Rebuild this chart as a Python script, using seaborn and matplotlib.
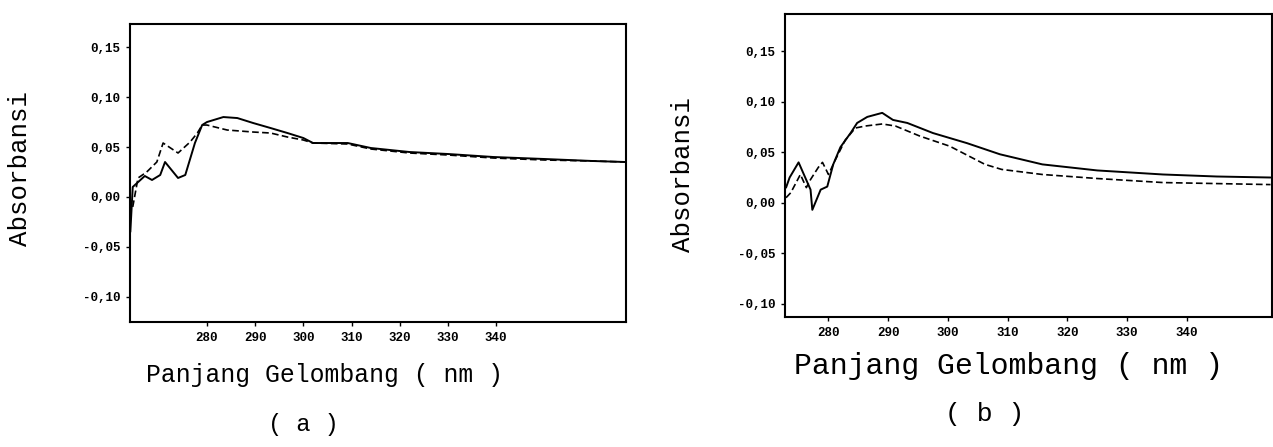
import matplotlib
matplotlib.use("Agg")
import matplotlib.pyplot as plt
import seaborn as sns
import pandas as pd

# ---- data ----
xticks = [280, 290, 300, 310, 320, 330, 340]
xtick_labels = ["280", "290", "300", "310", "320", "330", "340"]
yticks = [0.15, 0.10, 0.05, 0.00, -0.05, -0.10]
ytick_labels = ["0,15", "0,10", "0,05", "0,00", "-0,05", "-0,10"]

a_wl_solid = [264.1, 264.6, 267.1, 268.6, 270.3, 271.3, 274.0, 275.5, 277.5, 279.0, 280.0,
              283.4, 286.3, 289.6, 293.2, 296.7, 300.0, 302.0, 309.2, 314.0, 322.0, 330.0,
              339.4, 350.0, 360.0, 366.8]
a_abs_solid = [-0.035, 0.010, 0.021, 0.017, 0.022, 0.035, 0.019, 0.022, 0.054, 0.072, 0.075,
               0.080, 0.079, 0.074, 0.069, 0.064, 0.059, 0.054, 0.054, 0.049, 0.045, 0.043,
               0.040, 0.038, 0.036, 0.035]
a_wl_dash = [264.6, 265.7, 267.5, 269.6, 270.9, 274.0, 276.5, 278.0, 279.0, 280.0, 284.2,
             289.6, 293.2, 296.7, 300.0, 302.0, 309.2, 314.0, 322.0, 330.0, 339.4, 350.0,
             360.0, 366.8]
a_abs_dash = [-0.010, 0.019, 0.025, 0.035, 0.054, 0.044, 0.055, 0.064, 0.072, 0.072, 0.067,
              0.065, 0.064, 0.060, 0.057, 0.054, 0.053, 0.048, 0.044, 0.042, 0.039, 0.037,
              0.036, 0.035]

b_wl_solid = [272.9, 273.5, 275.0, 277.0, 277.3, 278.7, 279.8, 280.8, 282.0, 283.7, 284.8,
              286.5, 289.0, 290.8, 293.2, 297.5, 303.2, 308.7, 315.8, 325.0, 336.0, 345.0, 354.0]
b_abs_solid = [0.015, 0.025, 0.040, 0.013, -0.007, 0.013, 0.016, 0.038, 0.055, 0.069, 0.079,
               0.085, 0.089, 0.082, 0.079, 0.069, 0.059, 0.048, 0.038, 0.032, 0.028, 0.026, 0.025]
b_wl_dash = [272.9, 273.7, 275.3, 276.3, 277.0, 278.3, 279.0, 280.0, 281.2, 282.8, 284.5,
             286.2, 289.0, 291.2, 295.3, 300.3, 306.2, 309.0, 315.8, 325.0, 336.0, 345.0, 354.0]
b_abs_dash = [0.005, 0.010, 0.028, 0.015, 0.023, 0.035, 0.040, 0.028, 0.043, 0.062, 0.074,
              0.076, 0.078, 0.076, 0.066, 0.056, 0.038, 0.033, 0.028, 0.024, 0.020, 0.019, 0.018]

xlabel = "Panjang Gelombang ( nm )"
ylabel = "Absorbansi"

sns.set_theme(style="white")
plt.rcParams["font.family"] = ["Liberation Mono", "DejaVu Sans Mono"]

fig = plt.figure(figsize=(12.73, 4.47), dpi=100)
ax_a = fig.add_axes([0.102, 0.280, 0.390, 0.666])
ax_b = fig.add_axes([0.617, 0.291, 0.382, 0.678])

panels = [
    (ax_a, a_wl_solid, a_abs_solid, a_wl_dash, a_abs_dash, (264, 367), (-0.125, 0.173)),
    (ax_b, b_wl_solid, b_abs_solid, b_wl_dash, b_abs_dash, (272.8, 354.2), (-0.113, 0.187)),
]

for ax, xs, ys, xd, yd, xl, yl in panels:
    sns.lineplot(x=xs, y=ys, ax=ax, color="black", linewidth=1.4, estimator=None)
    sns.lineplot(x=xd, y=yd, ax=ax, color="black", linewidth=1.2, linestyle=(0, (4, 2)),
                 estimator=None)
    ax.set_xlim(*xl)
    ax.set_ylim(*yl)
    ax.set_xticks(xticks)
    ax.set_xticklabels(xtick_labels)
    ax.set_yticks(yticks)
    ax.set_yticklabels(ytick_labels)
    ax.tick_params(axis="both", which="both", direction="out", length=3, width=1,
                   color="black", labelsize=9, labelcolor="black", pad=4, left=True, bottom=True)
    for lab in ax.get_xticklabels() + ax.get_yticklabels():
        lab.set_fontweight("bold")
    for sp in ax.spines.values():
        sp.set_visible(True)
        sp.set_color("black")
        sp.set_linewidth(1.5)
    ax.set_xlabel("")
    ax.set_ylabel("")

# axis titles placed as in the scan
fig.text(20 / 1273, 1 - 168 / 447, ylabel, rotation=90, ha="center", va="center",
         fontsize=18.5, color="black")
fig.text(683 / 1273, 1 - 174 / 447, ylabel, rotation=90, ha="center", va="center",
         fontsize=18.5, color="black")
fig.text(325 / 1273, 1 - 375 / 447, xlabel, ha="center", va="center", fontsize=17.8, color="black")
fig.text(1008 / 1273, 1 - 366 / 447, xlabel, ha="center", va="center", fontsize=21.5, color="black")
fig.text(303 / 1273, 1 - 424 / 447, "( a )", ha="center", va="center", fontsize=17, color="black")
fig.text(985 / 1273, 1 - 414 / 447, "( b )", ha="center", va="center", fontsize=19, color="black")

fig.savefig("out.png", dpi=100, facecolor="white")
